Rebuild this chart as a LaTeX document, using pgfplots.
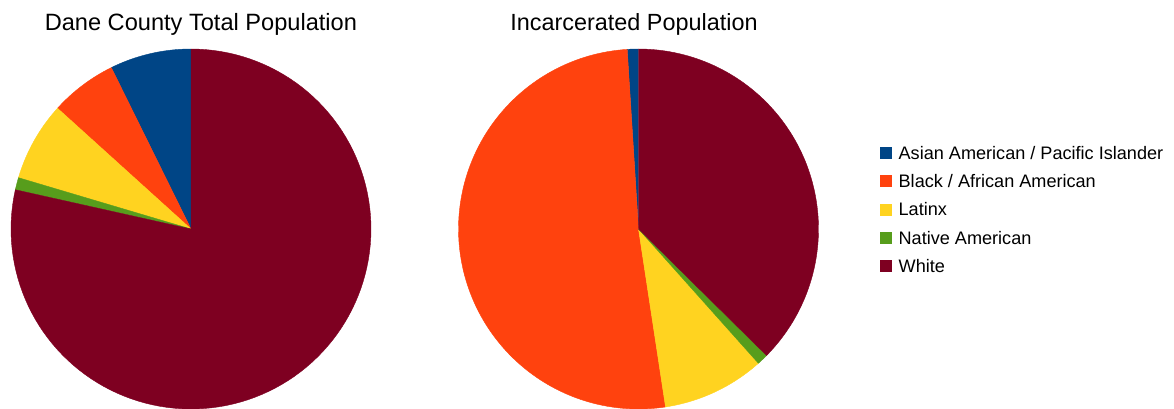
\documentclass[border=0pt]{standalone}
\usepackage{pgfplots}
\pgfplotsset{compat=1.18}
\usepackage{fontspec}
\setmainfont{Liberation Sans}
\definecolor{cAsian}{HTML}{004586}
\definecolor{cBlack}{HTML}{FF420E}
\definecolor{cLatinx}{HTML}{FFD320}
\definecolor{cNative}{HTML}{579D1C}
\definecolor{cWhite}{HTML}{7E0021}

% shares in percent / colour (Asian, Black, Latinx, Native, White)
\def\daneData{7.3/cAsian,6.0/cBlack,7.1/cLatinx,1.1/cNative,78.5/cWhite}
\def\jailData{1.0/cAsian,51.4/cBlack,9.2/cLatinx,1.0/cNative,37.4/cWhite}

\newcommand\pieslices[1]{%
  \xdef\cum{0}%
  \foreach \pval/\col in #1 {%
    \pgfmathparse{90+3.6*\cum}\xdef\angA{\pgfmathresult}%
    \pgfmathparse{\cum+\pval}\xdef\cum{\pgfmathresult}%
    \pgfmathparse{90+3.6*\cum}\xdef\angB{\pgfmathresult}%
    \edef\doslice{\noexpand\addplot[fill=\col,draw=\col,line width=0.4pt,domain=\angA:\angB,samples=120] ({cos(x)},{sin(x)}) -- (axis cs:0,0) -- cycle;}%
    \doslice
  }%
}

\begin{document}
\begin{tikzpicture}
\path[use as bounding box] (0,0) rectangle (1174pt,408pt);
\begin{axis}[at={(191pt,179pt)}, anchor=center, scale only axis,
  width=360pt, height=360pt, xmin=-1, xmax=1, ymin=-1, ymax=1,
  hide axis, clip=false]
\pieslices{\daneData}
\node[anchor=base, font=\fontsize{23.6}{28}\selectfont] at (axis cs:0.055,1.105) {Dane County Total Population};
\end{axis}
\begin{axis}[at={(638.5pt,179pt)}, anchor=center, scale only axis,
  width=360pt, height=360pt, xmin=-1, xmax=1, ymin=-1, ymax=1,
  hide axis, clip=false,
  legend entries={Asian American / Pacific Islander, Black / African American, Latinx, Native American, White},
  legend image code/.code={\fill[#1] (0pt,1pt) rectangle (11pt,12pt); \path (18pt,0pt);},
  legend style={at={(1.171,0.7306)}, anchor=north west, draw=none, fill=none,
    inner sep=0pt, row sep=11.3pt, column sep=0pt,
    font=\fontsize{18.1}{22}\selectfont,
    nodes={inner sep=0pt, text height=13pt, text depth=4pt, anchor=base west}},
  legend cell align=left]
\pieslices{\jailData}
\node[anchor=base, font=\fontsize{23.4}{28}\selectfont] at (axis cs:-0.025,1.105) {Incarcerated Population};
\end{axis}
\end{tikzpicture}
\end{document}
